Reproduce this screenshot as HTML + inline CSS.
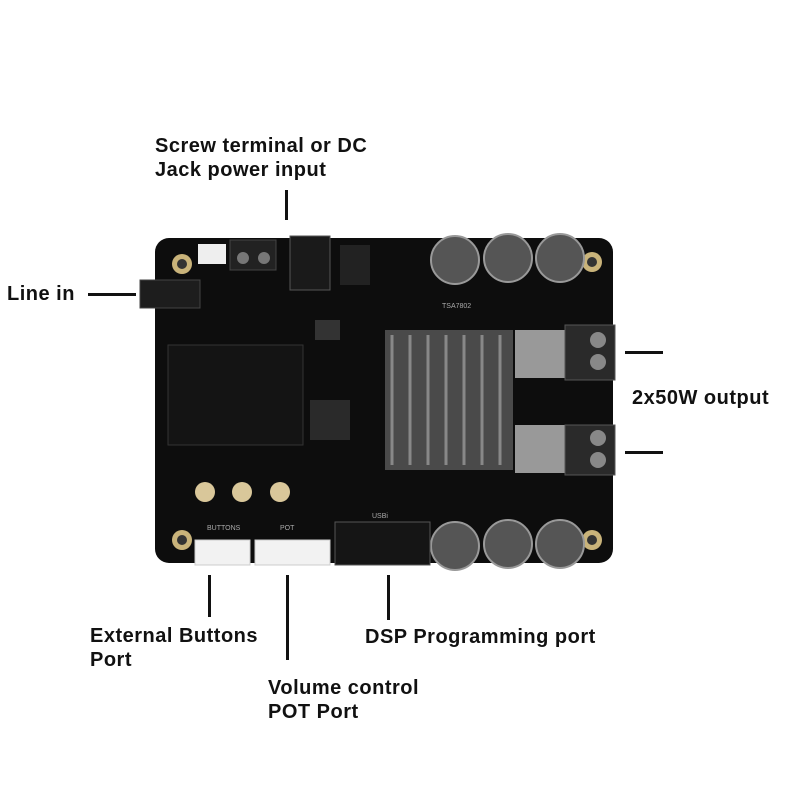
<!DOCTYPE html>
<html><head><style>
body{margin:0;width:800px;height:800px;background:#fff;position:relative;overflow:hidden;font-family:"Liberation Sans",sans-serif}
.t{position:absolute;font-weight:bold;font-size:20px;letter-spacing:0.5px;color:#111;line-height:24px}
.l{position:absolute;background:#111}
.a{position:absolute}
</style></head><body>
<div class="t" style="left:155px;top:134px">Screw terminal or DC<br>Jack power input</div>
<div class="l" style="left:285px;top:190px;width:3px;height:30px"></div>
<div class="t" style="left:7px;top:282px">Line in</div>
<div class="l" style="left:88px;top:293px;width:48px;height:3px"></div>
<div class="t" style="left:632px;top:386px">2x50W output</div>
<div class="l" style="left:625px;top:351px;width:38px;height:3px"></div>
<div class="l" style="left:625px;top:451px;width:38px;height:3px"></div>
<div class="t" style="left:90px;top:624px">External Buttons<br>Port</div>
<div class="l" style="left:208px;top:575px;width:3px;height:42px"></div>
<div class="t" style="left:365px;top:625px">DSP Programming port</div>
<div class="l" style="left:387px;top:575px;width:3px;height:45px"></div>
<div class="t" style="left:268px;top:676px">Volume control<br>POT Port</div>
<div class="l" style="left:286px;top:575px;width:3px;height:85px"></div>

<svg class="a" style="left:0;top:0" width="800" height="800">
<rect x="155" y="238" width="458" height="325" rx="14" fill="#0d0d0d"/>
<g fill="#c9b37a"><circle cx="182" cy="264" r="10"/><circle cx="592" cy="262" r="10"/><circle cx="182" cy="540" r="10"/><circle cx="592" cy="540" r="10"/></g>
<g fill="#333"><circle cx="182" cy="264" r="5"/><circle cx="592" cy="262" r="5"/><circle cx="182" cy="540" r="5"/><circle cx="592" cy="540" r="5"/></g>
<rect x="198" y="244" width="28" height="20" fill="#eee"/>
<rect x="230" y="240" width="46" height="30" fill="#222" stroke="#444"/>
<circle cx="243" cy="258" r="6" fill="#777"/><circle cx="264" cy="258" r="6" fill="#777"/>
<rect x="290" y="236" width="40" height="54" fill="#1a1a1a" stroke="#555"/>
<rect x="340" y="245" width="30" height="40" fill="#222"/>
<rect x="140" y="280" width="60" height="28" fill="#1d1d1d" stroke="#444"/>
<g fill="#555" stroke="#999" stroke-width="2">
<circle cx="455" cy="260" r="24"/><circle cx="508" cy="258" r="24"/><circle cx="560" cy="258" r="24"/>
<circle cx="455" cy="546" r="24"/><circle cx="508" cy="544" r="24"/><circle cx="560" cy="544" r="24"/></g>
<rect x="385" y="330" width="128" height="140" fill="#4a4a4a"/>
<g stroke="#888" stroke-width="3">
<line x1="392" y1="335" x2="392" y2="465"/><line x1="410" y1="335" x2="410" y2="465"/><line x1="428" y1="335" x2="428" y2="465"/><line x1="446" y1="335" x2="446" y2="465"/><line x1="464" y1="335" x2="464" y2="465"/><line x1="482" y1="335" x2="482" y2="465"/><line x1="500" y1="335" x2="500" y2="465"/></g>
<rect x="515" y="330" width="50" height="48" fill="#999"/>
<rect x="515" y="425" width="50" height="48" fill="#999"/>
<rect x="565" y="325" width="50" height="55" fill="#2a2a2a" stroke="#555"/>
<rect x="565" y="425" width="50" height="50" fill="#2a2a2a" stroke="#555"/>
<circle cx="598" cy="340" r="8" fill="#888"/><circle cx="598" cy="362" r="8" fill="#888"/>
<circle cx="598" cy="438" r="8" fill="#888"/><circle cx="598" cy="460" r="8" fill="#888"/>
<rect x="168" y="345" width="135" height="100" fill="#141414" stroke="#333"/>
<rect x="310" y="400" width="40" height="40" fill="#2a2a2a"/>
<rect x="315" y="320" width="25" height="20" fill="#333"/>
<g fill="#d9c79a"><circle cx="205" cy="492" r="10"/><circle cx="242" cy="492" r="10"/><circle cx="280" cy="492" r="10"/></g>
<rect x="195" y="540" width="55" height="25" fill="#f2f2f2" stroke="#ccc"/>
<rect x="255" y="540" width="75" height="25" fill="#f2f2f2" stroke="#ccc"/>
<rect x="335" y="522" width="95" height="43" fill="#151515" stroke="#555"/>
<g fill="#aaa" font-size="7" font-family="Liberation Sans">
<text x="442" y="308">TSA7802</text><text x="207" y="530">BUTTONS</text><text x="280" y="530">POT</text><text x="372" y="518">USBi</text>
</g>
</svg>
</body></html>
